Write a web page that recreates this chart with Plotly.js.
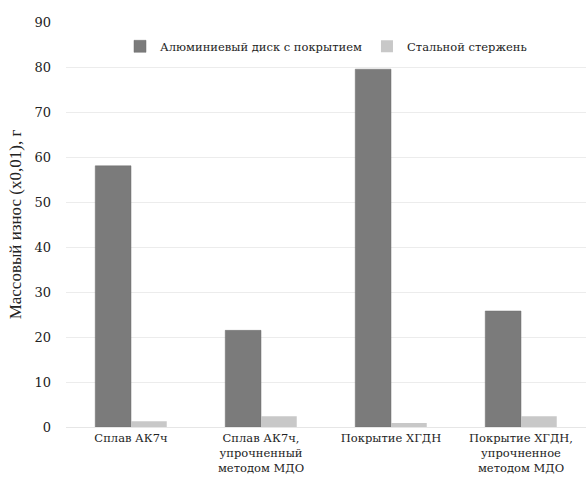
<!DOCTYPE html>
<html><head><meta charset="utf-8">
<script src="https://cdn.plot.ly/plotly-3.0.1.min.js"></script>
<style>html,body{margin:0;padding:0;background:#fff}#chart{width:587px;height:503px}</style>
</head><body><div id="chart"></div>
<script>
const categories = ["Сплав АК7ч", "Сплав АК7ч,<br>упрочненный<br>методом МДО", "Покрытие ХГДН", "Покрытие ХГДН,<br>упрочненное<br>методом МДО"];
const discValues = [58.1, 21.5, 79.6, 25.8];
const rodValues = [1.3, 2.4, 0.9, 2.4];
const seriesNames = ["Алюминиевый диск с покрытием", "Стальной стержень"];
const yTicks = [0, 10, 20, 30, 40, 50, 60, 70, 80, 90];

const data = [
  {type: "bar", x: categories, y: discValues, name: seriesNames[0], marker: {color: "#7b7b7b", line: {color: "#6e6e6e", width: 0.5}}},
  {type: "bar", x: categories, y: rodValues, name: seriesNames[1], marker: {color: "#c8c8c8"}}
];
const layout = {
  width: 587, height: 503,
  margin: {l: 66, r: 1, t: 22, b: 76},
  paper_bgcolor: "#fff", plot_bgcolor: "#fff",
  font: {family: "DejaVu Serif", color: "#222", size: 12},
  barmode: "group", bargap: 0.45, bargroupgap: 0,
  showlegend: true,
  legend: {orientation: "h", x: 0.5, xanchor: "center", y: 0.94, yanchor: "middle", font: {size: 11.5, color: "#222"}, bgcolor: "rgba(0,0,0,0)", itemwidth: 30, traceorder: "normal"},
  xaxis: {showgrid: false, showline: true, linecolor: "#e6e6e6", ticks: "", tickfont: {size: 11.5, color: "#222"}, automargin: false},
  yaxis: {range: [0, 90.1], tickvals: yTicks, showgrid: true, gridcolor: "#ececec", gridwidth: 1, zeroline: false, showline: false, ticks: "", ticklen: 0, tickfont: {size: 13, color: "#222"}, ticklabelstandoff: 14,
    title: {text: "Массовый износ (x0,01), г", font: {family: "Liberation Serif", size: 17, color: "#222"}, standoff: 8}, automargin: false}
};
Plotly.newPlot("chart", data, layout, {displayModeBar: false, staticPlot: true});
</script></body></html>
